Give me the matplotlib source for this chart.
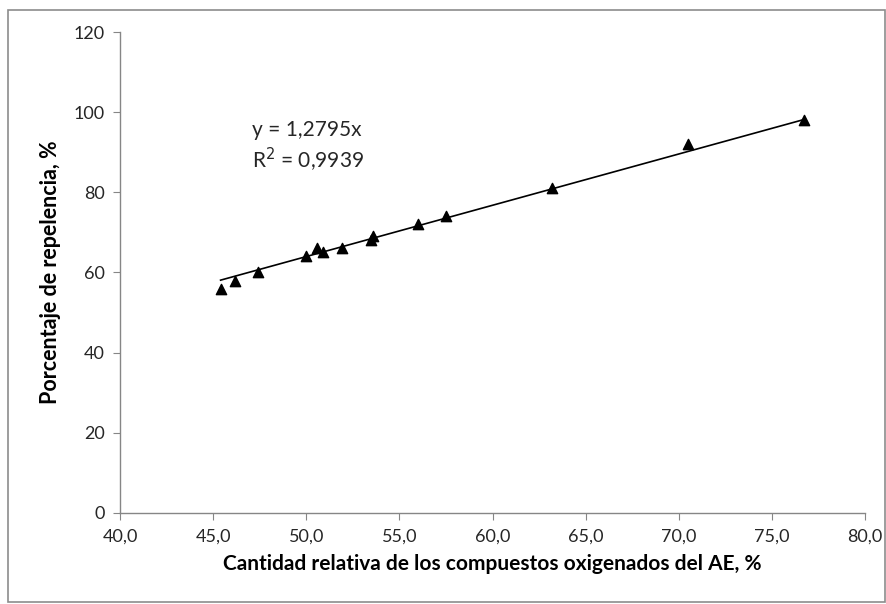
import matplotlib
matplotlib.use("Agg")
import matplotlib.pyplot as plt
from matplotlib.patches import Rectangle
import numpy as np

x_vals = [45.4, 46.2, 47.4, 50.0, 50.6, 50.9, 51.9, 53.5, 53.6, 56.0, 57.5, 63.2, 70.5, 76.7]
y_vals = [56.0, 58.0, 60.0, 64.0, 66.0, 65.0, 66.0, 68.0, 69.0, 72.0, 74.0, 81.0, 92.0, 98.0]
slope = 1.2795
x_ticks = [40, 45, 50, 55, 60, 65, 70, 75, 80]
y_ticks = [0, 20, 40, 60, 80, 100, 120]

plt.rcParams['font.family'] = ['Lato', 'DejaVu Sans']

fig = plt.figure(figsize=(8.87, 6.04), dpi=100)
ax = fig.add_axes([0.1353, 0.1507, 0.8399, 0.7963])

ax.scatter(x_vals, y_vals, marker='^', s=55, color='black', zorder=3)
xl = np.array([min(x_vals), max(x_vals)])
ax.plot(xl, slope * xl, color='black', lw=1.2, zorder=2)

ax.set_xlim(40, 80)
ax.set_ylim(0, 120)
ax.set_xticks(x_ticks)
ax.set_xticklabels([f"{v:.1f}".replace('.', ',') for v in x_ticks])
ax.set_yticks(y_ticks)
ax.set_yticklabels([str(v) for v in y_ticks])

for s in ['top', 'right']:
    ax.spines[s].set_visible(False)
for s in ['left', 'bottom']:
    ax.spines[s].set_color('#868686')
    ax.spines[s].set_linewidth(1.0)
ax.tick_params(direction='out', length=5, color='#868686', labelsize=13,
               labelcolor='#262626', pad=6)

ax.set_xlabel('Cantidad relativa de los compuestos oxigenados del AE, %',
              fontsize=15, fontweight='bold', labelpad=7)
ax.set_ylabel('Porcentaje de repelencia, %', fontsize=15.5, fontweight='bold', labelpad=9)

ax.text(0.2846, 0.785, 'y = 1,2795x', transform=fig.transFigure,
        fontsize=15, ha='left', va='center', color='#262626')
ax.text(0.2846, 0.735, 'R$^2$ = 0,9939', transform=fig.transFigure,
        fontsize=15, ha='left', va='center', color='#262626')

fig.patches.append(Rectangle((0.009, 0.003), 0.989, 0.98, transform=fig.transFigure,
                             fill=False, edgecolor='#8c8c8c', lw=1.2))

fig.savefig('out.png', dpi=100)
